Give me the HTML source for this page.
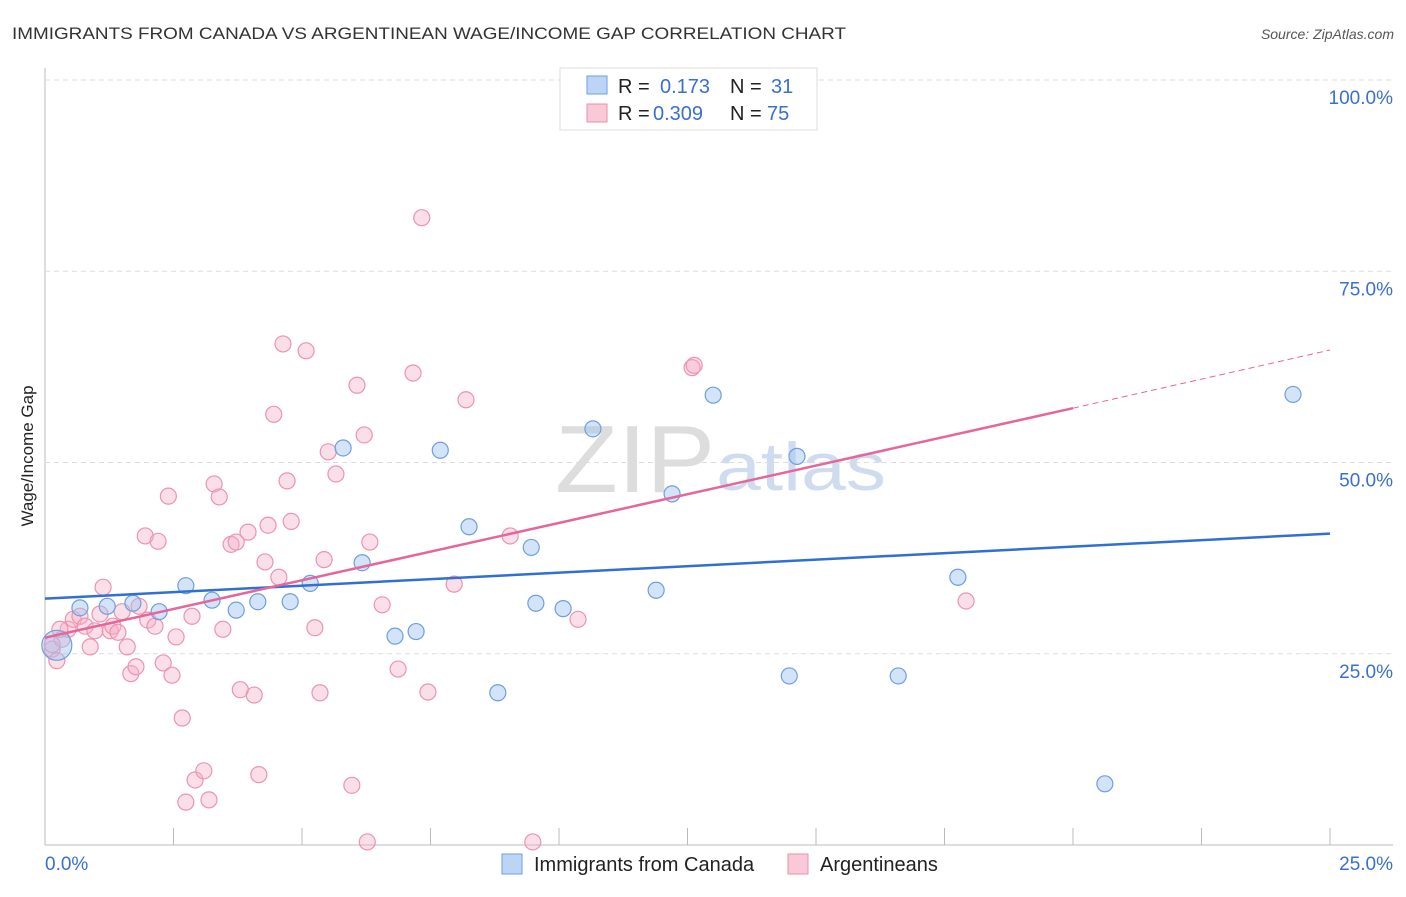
<!DOCTYPE html>
<html><head><meta charset="utf-8"><style>
body{margin:0;background:#fff;font-family:"Liberation Sans",sans-serif}
svg text{font-family:"Liberation Sans",sans-serif}
</style></head><body>
<svg id="c" width="1406" height="892" xmlns="http://www.w3.org/2000/svg">
<text x="12" y="39" font-size="17" fill="#333" textLength="834" lengthAdjust="spacingAndGlyphs">IMMIGRANTS FROM CANADA VS ARGENTINEAN WAGE/INCOME GAP CORRELATION CHART</text>
<text x="1394" y="39" font-size="14" fill="#555" font-style="italic" text-anchor="end">Source: ZipAtlas.com</text>
<text x="33" y="456" font-size="17" fill="#222" transform="rotate(-90 33 456)" text-anchor="middle">Wage/Income Gap</text>
<text x="555" y="492" font-size="96" fill="#ddd" textLength="160" lengthAdjust="spacingAndGlyphs" font-family="Liberation Serif">ZIP</text>
<text x="716" y="490" font-size="68" fill="#cfdcf0" textLength="170" lengthAdjust="spacingAndGlyphs">atlas</text>
<g id="grid"></g><g id="pts"></g><g id="lines"></g>
<g>
<rect x="560" y="68" width="257" height="62" fill="#fff" stroke="#ddd"/>
<rect x="587" y="76" width="20" height="18" fill="#bcd5f5" stroke="#6f9ee0"/>
<rect x="587" y="104" width="20" height="18" fill="#f9c9d7" stroke="#ea8fac"/>
<text x="618" y="93" font-size="20" fill="#222">R =</text>
<text x="660" y="93" font-size="20" fill="#3a6fd0">0.173</text>
<text x="730" y="93" font-size="20" fill="#222">N =</text>
<text x="771" y="93" font-size="20" fill="#3a6fd0">31</text>
<text x="618" y="120" font-size="20" fill="#222">R =</text>
<text x="653" y="120" font-size="20" fill="#3a6fd0">0.309</text>
<text x="730" y="120" font-size="20" fill="#222">N =</text>
<text x="767" y="120" font-size="20" fill="#3a6fd0">75</text>
</g>
<g>
<rect x="502" y="854" width="20" height="20" fill="#bcd5f5" stroke="#6f9ee0"/>
<text x="534" y="871" font-size="20" fill="#222">Immigrants from Canada</text>
<rect x="788" y="854" width="20" height="20" fill="#f9c9d7" stroke="#ea8fac"/>
<text x="820" y="871" font-size="20" fill="#222">Argentineans</text>
</g>
</svg>
<script>
const yTicks=[25,50,75,100];
const xTickLabels=["0.0%","25.0%"];
const canadaX=[0.23,0.68,1.21,1.71,2.22,2.74,3.25,3.72,4.14,4.77,5.16,5.80,6.17,6.81,7.22,7.69,8.25,8.81,9.46,9.55,10.08,10.66,11.89,12.20,13.00,14.48,14.63,16.60,17.76,20.62,24.28];
const canadaY=[26.1,31.0,31.2,31.6,30.5,33.9,32.0,30.7,31.8,31.8,34.2,51.9,36.9,27.3,27.9,51.6,41.6,19.9,38.9,31.6,30.9,54.4,33.3,45.9,58.8,22.1,50.8,22.1,35.0,8.0,58.9];
const argX=[0.14,0.23,0.33,0.45,0.55,0.68,0.78,0.88,0.97,1.13,1.27,1.32,1.42,1.50,1.60,1.67,1.77,1.83,1.95,2.00,2.14,2.20,2.30,2.40,2.47,2.55,2.67,2.86,2.92,2.74,3.09,3.19,3.29,3.39,3.46,3.62,3.72,3.80,3.95,4.07,4.16,4.28,4.34,4.45,4.55,4.63,4.71,4.79,5.08,5.25,5.35,5.43,5.51,5.66,5.97,6.07,6.21,6.27,6.32,6.56,6.87,7.16,7.33,7.45,7.96,8.19,9.05,9.49,10.37,12.59,12.63,17.92,0.14,1.07,0.29];
const argY=[25.6,24.1,26.9,28.2,29.5,29.9,28.6,25.9,28.0,33.7,28.0,28.6,27.8,30.5,25.9,22.4,23.3,31.2,40.4,29.4,28.6,39.7,23.8,45.6,22.2,27.2,16.6,29.9,8.5,5.6,9.7,5.9,47.2,45.5,28.2,39.3,39.6,20.3,40.9,19.6,9.2,37.0,41.8,56.3,35.0,65.5,47.6,42.3,64.6,28.4,19.9,37.3,51.4,48.5,7.8,60.1,53.6,0.4,39.6,31.4,23.0,61.7,82.0,20.0,34.1,58.2,40.4,0.4,29.5,62.4,62.7,31.9,26.2,30.2,28.2];
const sx=v=>45+v/25*1285, sy=v=>845-v/100*765;
const NS="http://www.w3.org/2000/svg";
function mk(tag,attrs,parent){const e=document.createElementNS(NS,tag);for(const k in attrs)e.setAttribute(k,attrs[k]);parent.appendChild(e);return e;}
const g=document.getElementById('grid');
let ax=mk('line',{x1:45,y1:68,x2:45,y2:845,stroke:'#bbb'},g);


let bx=mk('line',{x1:45,y1:845,x2:1393,y2:845,stroke:'#bbb'},g);


for(let i=1;i<=10;i++){const x=sx(i*2.5);const t=mk('line',{x1:x,y1:828,x2:x,y2:845,stroke:'#bbb'},g);

}
yTicks.forEach(v=>{const y=sy(v);const l=mk('line',{x1:45,y1:y,x2:1393,y2:y,stroke:'#ddd','stroke-dasharray':'5,4'},g);


const t=mk('text',{x:1393,y:y+24,'font-size':19,fill:'#3a6fd0','text-anchor':'end'},g);t.textContent=v.toFixed(1)+'%';

});
xTickLabels.forEach((s,i)=>{const t=mk('text',{x:i?1393:45,y:870,'font-size':19,fill:'#3a6fd0','text-anchor':i?'end':'start'},g);t.textContent=s;

});
const p=document.getElementById('pts');
argX.forEach((x,i)=>{const c=mk('circle',{cx:sx(x),cy:sy(argY[i]),r:8,fill:'rgba(246,176,198,0.4)',stroke:'#eb94b0','stroke-width':1.2},p);

});
canadaX.forEach((x,i)=>{const c=mk('circle',{cx:sx(x),cy:sy(canadaY[i]),r:i==0?15:8,fill:'rgba(160,195,240,0.45)',stroke:'#6f9ee0','stroke-width':1.2},p);

});
const L=document.getElementById('lines');
let b=mk('line',{x1:sx(0),y1:sy(32.2),x2:sx(25),y2:sy(40.7),stroke:'#2f6fd6','stroke-width':2.5},L);


let r=mk('line',{x1:sx(0),y1:sy(27.1),x2:sx(20),y2:sy(57.1),stroke:'#e4669a','stroke-width':2.5},L);


let rd=mk('line',{x1:sx(20),y1:sy(57.1),x2:sx(25),y2:sy(64.7),stroke:'#e4669a','stroke-width':1,'stroke-dasharray':'6,4'},L);


</script>
</body></html>
